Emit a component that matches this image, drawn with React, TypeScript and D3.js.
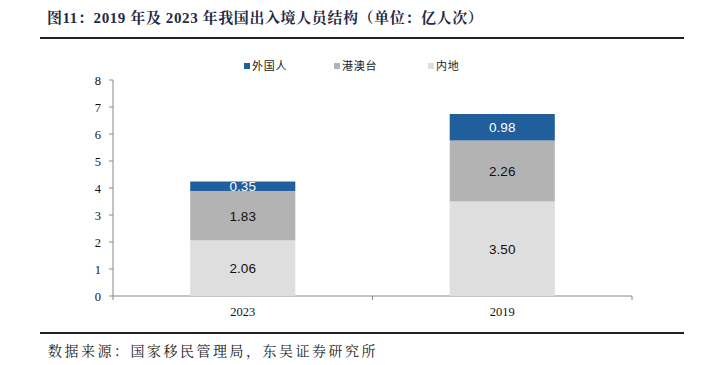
import React from "react";
import * as d3 from "d3";

const categories = ["2023", "2019"];
const seriesNames = ["内地", "港澳台", "外国人"];
const mainland = [2.06, 3.5];
const hkMacauTw = [1.83, 2.26];
const foreign = [0.35, 0.98];
const yTicks = [0, 1, 2, 3, 4, 5, 6, 7, 8];
const colors = ["#DEDEDE", "#B3B3B3", "#215E9C"];
const labelColors = ["#111", "#111", "#fff"];
const legendOrder = ["外国人", "港澳台", "内地"];

export default function App() {
  const W = 706, H = 365;
  const left = 113, right = 632, top = 80, bottom = 296;
  const x = d3.scaleBand().domain(categories).range([left, right]).paddingInner(0).paddingOuter(0);
  const y = d3.scaleLinear().domain([0, 8]).range([bottom, top]);
  const series = [mainland, hkMacauTw, foreign];
  const stack = d3.stack<number>().keys([0, 1, 2] as any).value((d: number, k: any) => series[k][d]);
  const stacked = stack(categories.map((_, i) => i) as any);
  const bw = x.bandwidth() * 0.405;
  const serif = "'Times New Roman', 'Liberation Serif', serif";
  const sans = "Arial, 'Liberation Sans', sans-serif";
  const cjk = "'Noto Sans CJK SC', sans-serif";
  const legendX = [244, 334, 428];
  return (
    <svg width={W} height={H} style={{ position: "absolute", left: 0, top: 0, background: "#fff" }}>
      <text x={47} y={23} fontSize={15} fontWeight="bold" fill="#1F2A44" letterSpacing={0.6} fontFamily={`'Liberation Serif', 'Noto Serif CJK SC', 'Noto Sans CJK SC', serif`}>图11：2019 年及 2023 年我国出入境人员结构（单位：亿人次）</text>
      <line x1={40} x2={684} y1={38} y2={38} stroke="#222" strokeWidth={2} />
      {legendOrder.map((name, i) => {
        const si = seriesNames.indexOf(name);
        return (
          <g key={name}>
            <rect x={legendX[i]} y={63} width={6} height={6} fill={colors[si]} />
            <text x={legendX[i] + 8} y={70} fontSize={11} fill="#222" letterSpacing={0.8} fontFamily={cjk}>{name}</text>
          </g>
        );
      })}
      <line x1={left} x2={left} y1={top} y2={bottom} stroke="#888" />
      <line x1={left} x2={right} y1={bottom} y2={bottom} stroke="#888" />
      {yTicks.map(t => (
        <g key={t}>
          <line x1={left - 4} x2={left} y1={y(t)} y2={y(t)} stroke="#888" />
          <text x={left - 12} y={y(t) + 4.5} textAnchor="end" fontSize={12.5} fill="#111" fontFamily={serif}>{t}</text>
        </g>
      ))}
      {[left, left + x.bandwidth(), right].map((v, i) => (
        <line key={i} x1={v} x2={v} y1={bottom} y2={bottom + 4} stroke="#888" />
      ))}
      {categories.map(c => (
        <text key={c} x={(x(c) as number) + x.bandwidth() / 2} y={bottom + 20} textAnchor="middle" fontSize={12.5} fill="#111" fontFamily={serif}>{c}</text>
      ))}
      {stacked.map((layer: any, si: number) => layer.map((d: any, ci: number) => {
        const cx = (x(categories[ci]) as number) + x.bandwidth() / 2;
        const y0 = y(d[0]), y1 = y(d[1]);
        return (
          <g key={`${si}-${ci}`}>
            <rect x={cx - bw / 2} y={y1} width={bw} height={y0 - y1} fill={colors[si]} />
            <text x={cx} y={(y0 + y1) / 2 + 5} textAnchor="middle" fontSize={13.5} fill={labelColors[si]} fontFamily={sans}>{series[si][ci].toFixed(2)}</text>
          </g>
        );
      }))}
      <line x1={40} x2={684} y1={333} y2={333} stroke="#222" strokeWidth={2} />
      <text x={48} y={356} fontSize={14} fill="#222" letterSpacing={2.5} fontFamily={`'Noto Serif CJK SC', 'Noto Sans CJK SC', serif`}>数据来源：国家移民管理局，东吴证券研究所</text>
    </svg>
  );
}
